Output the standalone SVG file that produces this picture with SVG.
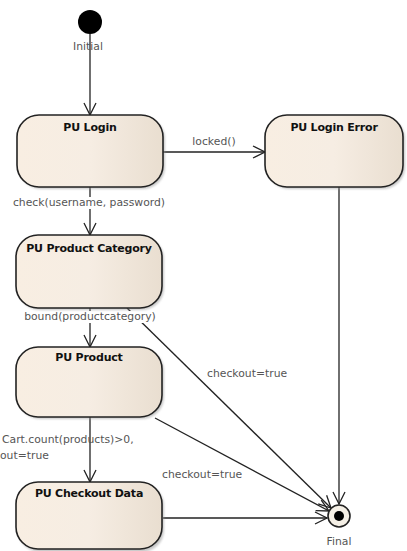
<svg xmlns="http://www.w3.org/2000/svg" width="407" height="551" viewBox="0 0 407 551">
  <defs>
    <linearGradient id="stateFill" x1="0" y1="0" x2="1" y2="0">
      <stop offset="0" stop-color="#f8eee2"/>
      <stop offset="0.5" stop-color="#f6ede3"/>
      <stop offset="1" stop-color="#e9ded0"/>
    </linearGradient>
    <marker id="open" viewBox="0 0 14 14" refX="13" refY="7" markerWidth="14" markerHeight="14" markerUnits="userSpaceOnUse" orient="auto">
      <path d="M1,1 L13,7 L1,13" fill="none" stroke="#222" stroke-width="1.3"/>
    </marker>
    <filter id="soft" x="-10%" y="-10%" width="130%" height="130%">
      <feGaussianBlur stdDeviation="1.2"/>
    </filter>
  </defs>
  <style>
    .state { fill: url(#stateFill); stroke: #222; stroke-width: 1.6; }
    .shadow { fill: #9a9a9a; opacity: 0.55; filter: url(#soft); }
    .title { font-family: "DejaVu Sans", "Liberation Sans", sans-serif; font-size: 11px; font-weight: bold; fill: #111; text-anchor: middle; letter-spacing: -0.2px; }
    .label { font-family: "DejaVu Sans", "Liberation Sans", sans-serif; font-size: 10.8px; fill: #555; }
    .mid { text-anchor: middle; }
    .edge { fill: none; stroke: #222; stroke-width: 1.3; marker-end: url(#open); }
    .bg { fill: #fff; }
  </style>
  <rect width="407" height="551" fill="#fff"/>

  <!-- connectors -->
  <g id="connectors">
    <path class="edge" d="M90,34 L90,115"/>
    <path class="edge" d="M163,152 L265,152"/>
    <path class="edge" d="M90,187 L90,235"/>
    <path class="edge" d="M90,308 L90,347"/>
    <path class="edge" d="M90,417 L90,482"/>
    <path class="edge" d="M339,187 L339,504"/>
    <path class="edge" d="M127,308 L331,508"/>
    <path class="edge" d="M155,418 L329,511"/>
    <path class="edge" d="M163,518 L327,518"/>
  </g>

  <!-- transition labels -->
  <g id="edge-labels">
    <rect class="bg" x="10" y="197" width="158" height="12"/>
    <text class="label mid" x="89" y="206">check(username, password)</text>
    <rect class="bg" x="20" y="311" width="142" height="12"/>
    <text class="label mid" x="90" y="320">bound(productcategory)</text>
    <text class="label mid" x="214" y="145">locked()</text>
    <text class="label" x="2" y="443">Cart.count(products)&gt;0,</text>
    <text class="label" x="0" y="459">out=true</text>
    <text class="label" x="207" y="377">checkout=true</text>
    <text class="label" x="162" y="478">checkout=true</text>
  </g>

  <!-- initial pseudo-state -->
  <g id="initial">
    <circle cx="90" cy="22" r="12" fill="#000"/>
    <text class="label mid" x="88" y="50">Initial</text>
  </g>

  <g id="pu-login">
    <rect class="shadow" x="19" y="117" width="146" height="72" rx="22"/>
    <rect class="state" x="17" y="115" width="146" height="72" rx="22"/>
    <text class="title" x="90" y="131">PU Login</text>
  </g>

  <g id="pu-login-error">
    <rect class="shadow" x="267" y="117" width="138" height="72" rx="22"/>
    <rect class="state" x="265" y="115" width="138" height="72" rx="22"/>
    <text class="title" x="334" y="131">PU Login Error</text>
  </g>

  <g id="pu-product-category">
    <rect class="shadow" x="18" y="237" width="146" height="73" rx="22"/>
    <rect class="state" x="16" y="235" width="146" height="73" rx="22"/>
    <text class="title" x="89" y="252">PU Product Category</text>
  </g>

  <g id="pu-product">
    <rect class="shadow" x="18" y="349" width="146" height="70" rx="22"/>
    <rect class="state" x="16" y="347" width="146" height="70" rx="22"/>
    <text class="title" x="89" y="361">PU Product</text>
  </g>

  <g id="pu-checkout-data">
    <rect class="shadow" x="18" y="484" width="146" height="68" rx="22"/>
    <rect class="state" x="16" y="482" width="146" height="67" rx="22"/>
    <text class="title" x="89" y="497">PU Checkout Data</text>
  </g>

  <!-- final pseudo-state -->
  <g id="final">
    <circle cx="339" cy="516" r="11" fill="#f5f0e6" stroke="#222" stroke-width="1.6"/>
    <circle cx="339" cy="516" r="5" fill="#000"/>
    <text class="label mid" x="339" y="545">Final</text>
  </g>
</svg>
